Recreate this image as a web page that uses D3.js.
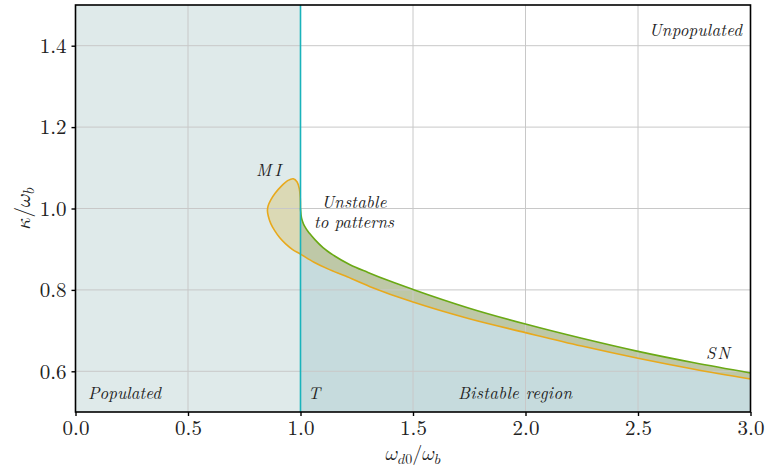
<!DOCTYPE html>
<html>
<head>
<meta charset="utf-8">
<script src="https://cdn.jsdelivr.net/npm/d3@7"></script>
<style>
  html, body { margin: 0; padding: 0; background: #fff; }
  svg { display: block; }
</style>
</head>
<body>
<svg id="chart" width="765" height="474"></svg>
<script>
// ---- data ----
const xTicks = [0.0, 0.5, 1.0, 1.5, 2.0, 2.5, 3.0];
const yTicks = [0.6, 0.8, 1.0, 1.2, 1.4];
const xDomain = [0, 3];
const yDomain = [0.5, 1.5];
const transitionX = 1.0;           // T : boundary populated / unpopulated
// MI boundary (orange), parametric, starting at the T point
const orangeX = [1.0, 0.999, 0.995, 0.985, 0.968, 0.945, 0.915, 0.888, 0.868, 0.856, 0.853, 0.857, 0.868, 0.886, 0.908, 0.934, 0.965, 1.0, 1.06, 1.124, 1.2, 1.309, 1.5, 1.75, 2.0, 2.25, 2.5, 2.75, 3.0];
const orangeK = [1.0, 1.025, 1.048, 1.065, 1.073, 1.069, 1.055, 1.038, 1.021, 1.006, 0.995, 0.981, 0.963, 0.945, 0.928, 0.913, 0.899, 0.888, 0.868, 0.851, 0.834, 0.808, 0.770, 0.729, 0.695, 0.662, 0.632, 0.605, 0.581];
// SN boundary (green)
const greenX = [1.0, 1.003, 1.01, 1.022, 1.04, 1.065, 1.1, 1.15, 1.22, 1.3, 1.4, 1.5, 1.75, 2.0, 2.25, 2.5, 2.75, 3.0];
const greenK = [1.0, 0.982, 0.967, 0.953, 0.939, 0.923, 0.904, 0.884, 0.862, 0.843, 0.821, 0.801, 0.755, 0.716, 0.681, 0.649, 0.621, 0.596];
const regionLabels = ["Unpopulated", "MI", "Unstable", "to patterns", "SN", "Populated", "T", "Bistable region"];

// ---- layout ----
const FONT = '"Latin Modern Roman", "CMU Serif", "Liberation Serif", serif';
const MATH = '"Latin Modern Math", "Latin Modern Roman", "Noto Serif", serif';
const svg = d3.select("#chart");
const m = { left: 75.5, right: 750.5, top: 5, bottom: 412 };
const x = d3.scaleLinear().domain(xDomain).range([m.left, m.right]);
const y = d3.scaleLinear().domain(yDomain).range([m.bottom, m.top]);

const orange = orangeX.map((v, i) => [v, orangeK[i]]);
const green = greenX.map((v, i) => [v, greenK[i]]);

const defs = svg.append("defs");
function clip(id, x0, x1) {
  defs.append("clipPath").attr("id", id).append("rect")
    .attr("x", x(x0)).attr("y", y(yDomain[1]))
    .attr("width", x(x1) - x(x0)).attr("height", y(yDomain[0]) - y(yDomain[1]));
}
clip("clipL", xDomain[0], transitionX);
clip("clipR", transitionX, xDomain[1]);
clip("clipAll", xDomain[0], xDomain[1]);

// populated region
svg.append("rect")
  .attr("x", x(0)).attr("y", y(yDomain[1]))
  .attr("width", x(transitionX) - x(0))
  .attr("height", y(yDomain[0]) - y(yDomain[1]))
  .attr("fill", "#dfeaea");

// bistable region (below SN curve, right of T)
const area = d3.area().x(d => x(d[0])).y0(y(yDomain[0])).y1(d => y(d[1])).curve(d3.curveMonotoneX);
svg.append("path").datum(green).attr("d", area).attr("fill", "#c6dbdd");

// unstable-to-patterns region (between MI and SN)
const lineO = d3.line().x(d => x(d[0])).y(d => y(d[1])).curve(d3.curveCatmullRom.alpha(0.5));
const lineG = d3.line().x(d => x(d[0])).y(d => y(d[1])).curve(d3.curveMonotoneX);
const greenRev = green.slice().reverse();
const bandD = lineO(orange) + "L" + lineG(greenRev).slice(1) + "Z";
svg.append("path").attr("d", bandD).attr("fill", "#dbd9b5").attr("clip-path", "url(#clipL)");
svg.append("path").attr("d", bandD).attr("fill", "#bec8a7").attr("clip-path", "url(#clipR)");

// grid
const grid = svg.append("g").attr("stroke", "#c8c8c8").attr("stroke-width", 1);
grid.selectAll("line.vx").data(xTicks).join("line")
  .attr("x1", d => x(d)).attr("x2", d => x(d))
  .attr("y1", y(yDomain[0])).attr("y2", y(yDomain[1]));
grid.selectAll("line.hy").data(yTicks).join("line")
  .attr("x1", x(xDomain[0])).attr("x2", x(xDomain[1]))
  .attr("y1", d => y(d)).attr("y2", d => y(d));

// curves
svg.append("path").attr("d", lineO(orange)).attr("fill", "none")
  .attr("stroke", "#e8a91c").attr("stroke-width", 1.6).attr("clip-path", "url(#clipAll)");
svg.append("path").attr("d", lineG(green)).attr("fill", "none")
  .attr("stroke", "#6aa914").attr("stroke-width", 1.6).attr("clip-path", "url(#clipAll)");
// T line
svg.append("line")
  .attr("x1", x(transitionX)).attr("x2", x(transitionX))
  .attr("y1", y(yDomain[0])).attr("y2", y(yDomain[1]))
  .attr("stroke", "#1ab3bb").attr("stroke-width", 1.6);

// axes
const xAxis = d3.axisBottom(x).tickValues(xTicks).tickFormat(d3.format(".1f")).tickSize(4).tickPadding(4);
const yAxis = d3.axisLeft(y).tickValues(yTicks).tickFormat(d3.format(".1f")).tickSize(4).tickPadding(5);
const gx = svg.append("g").attr("transform", `translate(0,${m.bottom})`).call(xAxis);
const gy = svg.append("g").attr("transform", `translate(${m.left},0)`).call(yAxis);
[gx, gy].forEach(g => {
  g.select(".domain").remove();
  g.selectAll(".tick line").attr("stroke", "#000").attr("stroke-width", 1.4);
  g.selectAll(".tick text").style("font-family", FONT).attr("font-size", 21).attr("fill", "#222");
});
// frame
svg.append("rect").attr("x", m.left).attr("y", m.top)
  .attr("width", m.right - m.left).attr("height", m.bottom - m.top)
  .attr("fill", "none").attr("stroke", "#000").attr("stroke-width", 1.6);

// axis titles
const xt = svg.append("text").attr("x", x(1.5)).attr("y", 460).attr("text-anchor", "middle")
  .attr("font-size", 20).attr("fill", "#222").style("font-family", MATH);
xt.append("tspan").text("𝜔");
xt.append("tspan").attr("font-size", 14).attr("dy", 4).text("𝑑");
xt.append("tspan").attr("font-size", 14).style("font-family", FONT).text("0");
xt.append("tspan").attr("dy", -4).style("font-family", FONT).text("/");
xt.append("tspan").text("𝜔");
xt.append("tspan").attr("font-size", 14).attr("dy", 4).text("𝑏");

const yt = svg.append("text").attr("transform", `translate(30,${y(1.0)}) rotate(-90)`).attr("text-anchor", "middle")
  .attr("font-size", 21).attr("fill", "#222").style("font-family", MATH);
yt.append("tspan").text("𝜅");
yt.append("tspan").style("font-family", FONT).text("/");
yt.append("tspan").text("𝜔");
yt.append("tspan").attr("font-size", 15).attr("dy", 4).text("𝑏");

// region labels
const labelPos = [
  { x: 742, y: 36, anchor: "end", w: 93 },
  { x: 256, y: 176, anchor: "start", w: 25 },
  { x: 354, y: 208, anchor: "middle", w: 65 },
  { x: 354, y: 228, anchor: "middle", w: 80 },
  { x: 706, y: 359, anchor: "start", w: 24 },
  { x: 88, y: 399, anchor: "start", w: 73 },
  { x: 308, y: 399, anchor: "start", w: 11 },
  { x: 458, y: 399, anchor: "start", w: 114 }
];
svg.append("g").selectAll("text").data(regionLabels).join("text")
  .attr("x", (d, i) => labelPos[i].x).attr("y", (d, i) => labelPos[i].y)
  .attr("text-anchor", (d, i) => labelPos[i].anchor)
  .attr("font-style", "italic").attr("font-size", 17).attr("fill", "#222")
  .style("font-family", FONT)
  .attr("textLength", (d, i) => labelPos[i].w).attr("lengthAdjust", "spacing")
  .text(d => d);
</script>
</body>
</html>
